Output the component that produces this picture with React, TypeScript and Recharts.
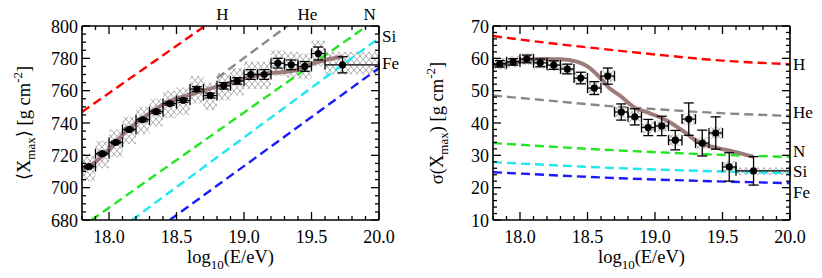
import React from 'react';
import {
  ComposedChart,
  Line,
  Scatter,
  XAxis,
  YAxis,
  ReferenceArea,
  ErrorBar,
} from 'recharts';

const FONT = "'Liberation Serif', 'DejaVu Serif', 'Noto Serif', 'Times New Roman', Times, serif";
const TXT: React.CSSProperties = { fontFamily: FONT };
const TICK_FS = 18;
const LABEL_FS = 18.5;
const NAME_FS = 17;

// ---------- shared energy bins (log10(E/eV)) ----------
const energy = [17.85, 17.95, 18.05, 18.15, 18.25, 18.35, 18.45, 18.55, 18.65, 18.75, 18.85, 18.95, 19.05, 19.15, 19.25, 19.35, 19.45, 19.55, 19.73];
const energyErrLow = [0.05, 0.05, 0.05, 0.05, 0.05, 0.05, 0.05, 0.05, 0.05, 0.05, 0.05, 0.05, 0.05, 0.05, 0.05, 0.05, 0.05, 0.05, 0.13];
const energyErrHigh = [0.05, 0.05, 0.05, 0.05, 0.05, 0.05, 0.05, 0.05, 0.05, 0.05, 0.05, 0.05, 0.05, 0.05, 0.05, 0.05, 0.05, 0.05, 0.27];

// ---------- <Xmax> ----------
const xmaxMean = [713, 721, 728, 736, 742, 747, 752, 754, 761, 757, 763, 766, 770, 770, 777, 776, 775, 783, 776];
const xmaxStat = [0.8, 0.8, 0.8, 0.8, 0.9, 1, 1, 1.2, 1.5, 1.5, 2, 2, 3, 3, 3, 3, 3, 4, 5];
const xmaxSysLow = [9, 9, 9, 9, 9, 9, 9, 9, 9, 9, 9, 9, 9, 9, 8, 8, 8, 8, 6];
const xmaxSysHigh = [8, 8, 8, 8, 8, 8, 8, 8, 8, 8, 8, 8, 8, 8, 8, 8, 8, 8, 8];

const xmaxFitE = [17.8, 17.9, 18.0, 18.1, 18.2, 18.3, 18.4, 18.5, 18.6, 18.7, 18.8, 18.9, 19.0, 19.1, 19.2, 19.3, 19.4, 19.5, 19.6, 19.73];
const xmaxFitV = [711, 716, 723.5, 732.5, 740, 746, 751.5, 755, 757.5, 760, 762.5, 765, 767.5, 769.5, 771, 771.5, 773, 776.5, 779, 781];

const xmaxH_E = [17.8, 18.71];
const xmaxH_V = [746.8, 800];
const xmaxHe_E = [18.8, 19.32];
const xmaxHe_V = [767.8, 800];
const xmaxN_E = [17.87, 19.91];
const xmaxN_V = [680, 800];
const xmaxSi_E = [18.17, 20.0];
const xmaxSi_V = [680, 792.6];
const xmaxFe_E = [18.45, 20.0];
const xmaxFe_V = [680, 774];

// ---------- sigma(Xmax) ----------
const sigmaMean = [58.3, 58.9, 59.8, 58.6, 57.9, 56.7, 53.9, 50.8, 54.5, 43.4, 41.9, 38.6, 39.1, 34.7, 41.2, 33.8, 36.9, 26.4, 25.2];
const sigmaStat = [1, 1, 1.2, 1.2, 1.3, 1.5, 1.8, 2, 2.5, 2.5, 2.5, 2.5, 3, 3, 5, 4, 5, 4.4, 4.4];
const sigmaSysLow = [1.8, 1.8, 1.8, 1.8, 1.8, 1.8, 1.8, 1.8, 1.8, 1.8, 1.8, 1.8, 1.8, 1.8, 1.8, 1.8, 1.8, 1.8, 1.3];
const sigmaSysHigh = [1.8, 1.8, 1.8, 1.8, 1.8, 1.8, 1.8, 1.8, 1.8, 1.8, 1.8, 1.8, 1.8, 1.8, 1.8, 1.8, 1.8, 1.8, 1.0];

const sigmaFitE = [17.8, 17.95, 18.15, 18.3, 18.42, 18.5, 18.57, 18.67, 18.74, 18.84, 18.95, 19.1, 19.21, 19.33, 19.46, 19.6, 19.73];
const sigmaFitV = [57.6, 58.6, 59.8, 59.7, 59.0, 57.5, 55, 50.5, 48.5, 45, 43.2, 40.5, 37.5, 33.8, 32.3, 31, 29.5];

const sigmaH_E = [17.8, 18.0, 18.2, 18.5, 19.0, 19.5, 20.0];
const sigmaH_V = [66.9, 65.8, 64.8, 63.4, 61.2, 59.3, 58.2];
const sigmaHe_E = [17.8, 18.3, 18.64, 19.0, 19.33, 20.0];
const sigmaHe_V = [48.5, 46.6, 45.3, 44.3, 43.4, 42.2];
const sigmaN_E = [17.8, 18.6, 19.33, 20.0];
const sigmaN_V = [33.8, 31.8, 30.4, 29.5];
const sigmaSi_E = [17.8, 18.69, 20.0];
const sigmaSi_V = [27.9, 26.1, 24.5];
const sigmaFe_E = [17.8, 18.69, 20.0];
const sigmaFe_V = [24.8, 23.0, 21.4];

// ---------- ticks & labels ----------
const xMinorTicks = [17.8, 17.9, 18.0, 18.1, 18.2, 18.3, 18.4, 18.5, 18.6, 18.7, 18.8, 18.9, 19.0, 19.1, 19.2, 19.3, 19.4, 19.5, 19.6, 19.7, 19.8, 19.9, 20.0];
const xMajorTicks = [18.0, 18.5, 19.0, 19.5, 20.0];
const xTickLabels = ['18.0', '18.5', '19.0', '19.5', '20.0'];

const xmaxMinorTicks = [680, 685, 690, 695, 700, 705, 710, 715, 720, 725, 730, 735, 740, 745, 750, 755, 760, 765, 770, 775, 780, 785, 790, 795, 800];
const xmaxMajorTicks = [680, 700, 720, 740, 760, 780, 800];
const xmaxTickLabels = ['680', '700', '720', '740', '760', '780', '800'];

const sigmaMinorTicks = [10, 12, 14, 16, 18, 20, 22, 24, 26, 28, 30, 32, 34, 36, 38, 40, 42, 44, 46, 48, 50, 52, 54, 56, 58, 60, 62, 64, 66, 68, 70];
const sigmaMajorTicks = [10, 20, 30, 40, 50, 60, 70];
const sigmaTickLabels = ['10', '20', '30', '40', '50', '60', '70'];

const primaryNames = ['H', 'He', 'N', 'Si', 'Fe'];
// left panel: H, He, N labelled above the frame; Si, Fe at the right edge
const xmaxTopLabelNames = ['H', 'He', 'N'];
const xmaxTopLabelE = [18.84, 19.47, 19.93];
const xmaxSideLabelNames = ['Si', 'Fe'];
const xmaxSideLabelV = [793.8, 777.1];
// right panel: all at the right edge
const sigmaSideLabelV = [58.2, 43.4, 31.2, 25.2, 18.7];

// ---------- styles ----------
const primaryColors: Record<string, string> = {
  H: '#ff0000',
  He: '#888888',
  N: '#22e622',
  Si: '#1ee8f0',
  Fe: '#1a1aff',
};
const FIT_COLOR = '#9c7b7b';

// ---------- helpers ----------
const zip = (xs: number[], ys: number[]) => xs.map((x, i) => ({ x, y: ys[i] }));
const idx = (v: number, arr: number[]) => arr.findIndex((a) => Math.abs(a - v) < 1e-6);

const makePoints = (means: number[], stat: number[]) =>
  energy.map((e, i) => ({ x: e, y: means[i], ey: stat[i], ex: [energyErrLow[i], energyErrHigh[i]] }));

const makeBoxes = (means: number[], lo: number[], hi: number[]) =>
  energy.map((e, i) => ({
    x1: e - energyErrLow[i],
    x2: e + energyErrHigh[i],
    y1: means[i] - lo[i],
    y2: means[i] + hi[i],
  }));

const TICK_MAJOR = 8;
const TICK_MINOR = 4;
const TICK_W = 1.3;

const bottomTick = (majors: number[], labels: string[]) => (p: any) => {
  const k = idx(p.payload.value, majors);
  return (
    <g>
      <line x1={p.x} x2={p.x} y1={p.y} y2={p.y - (k >= 0 ? TICK_MAJOR : TICK_MINOR)} stroke="#000" strokeWidth={TICK_W} />
      {k >= 0 && (
        <text x={p.x} y={p.y + 22.5} textAnchor="middle" style={TXT} fontSize={TICK_FS} fill="#000">
          {labels[k]}
        </text>
      )}
    </g>
  );
};

const leftTick = (majors: number[], labels: string[]) => (p: any) => {
  const k = idx(p.payload.value, majors);
  return (
    <g>
      <line x1={p.x} x2={p.x + (k >= 0 ? TICK_MAJOR : TICK_MINOR)} y1={p.y} y2={p.y} stroke="#000" strokeWidth={TICK_W} />
      {k >= 0 && (
        <text x={p.x - 4} y={p.y + 6.5} textAnchor="end" style={TXT} fontSize={TICK_FS} fill="#000">
          {labels[k]}
        </text>
      )}
    </g>
  );
};

// right axis: minor/major tick marks + primary names right of the frame
const rightTick = (minors: number[], majors: number[], nameVals: number[], names: string[]) => (p: any) => {
  const v = p.payload.value;
  const isTick = idx(v, minors) >= 0;
  const k = idx(v, majors);
  const n = idx(v, nameVals);
  return (
    <g>
      {isTick && (
        <line x1={p.x} x2={p.x - (k >= 0 ? TICK_MAJOR : TICK_MINOR)} y1={p.y} y2={p.y} stroke="#000" strokeWidth={TICK_W} />
      )}
      {n >= 0 && (
        <text x={p.x + 3} y={p.y + 6} textAnchor="start" style={TXT} fontSize={NAME_FS} fill="#000">
          {names[n]}
        </text>
      )}
    </g>
  );
};

// top frame decorations (mirrored x ticks and primary names), positioned through the top axis scale
const TopDecor = (p: any) => {
  const d = p.payload || {};
  if (d.kind === 'name') {
    return (
      <text x={p.cx} y={p.cy - 6} textAnchor="middle" style={TXT} fontSize={NAME_FS} fill="#000">
        {d.name}
      </text>
    );
  }
  return (
    <line
      x1={p.cx}
      x2={p.cx}
      y1={p.cy}
      y2={p.cy + (d.kind === 'major' ? TICK_MAJOR : TICK_MINOR)}
      stroke="#000"
      strokeWidth={TICK_W}
    />
  );
};

const Dot = (p: any) => <circle cx={p.cx} cy={p.cy} r={3.6} fill="#000" />;

type Comp = { name: string; e: number[]; v: number[]; curve: 'linear' | 'monotone' };

type PanelProps = {
  left: number;
  width: number;
  yAxisWidth: number;
  rightMargin: number;
  yDomain: [number, number];
  yMinor: number[];
  yMajor: number[];
  yLabels: string[];
  yLabel: React.ReactNode;
  yLabelX: number;
  points: any[];
  boxes: any[];
  comps: Comp[];
  fit: { x: number; y: number }[];
  hatchId: string;
  topNames: string[];
  topE: number[];
  sideNames: string[];
  sideV: number[];
};

const H = 278;
const TOP = 26;
const XAXIS_H = 58;
const MIRROR = 1; // thickness of the mirrored top / right axes boxes

function Panel(pp: PanelProps) {
  const plotW = pp.width - pp.yAxisWidth - pp.rightMargin;
  const plotH = H - TOP - XAXIS_H;
  const cx = pp.yAxisWidth + plotW / 2;
  const cy = TOP + plotH / 2;
  const rightTicks = [...pp.yMinor, ...pp.sideV].sort((a, b) => a - b);
  const topY = pp.yDomain[1];
  const topDecor = [
    ...xMinorTicks.map((t) => ({ x: t, y: topY, kind: idx(t, xMajorTicks) >= 0 ? 'major' : 'minor', name: '' })),
    ...pp.topE.map((e, i) => ({ x: e, y: topY, kind: 'name', name: pp.topNames[i] })),
  ];
  return (
    <div style={{ position: 'absolute', left: pp.left, top: 0, width: pp.width, height: H, fontFamily: FONT }}>
      <ComposedChart
        width={pp.width}
        height={H}
        margin={{ top: TOP - MIRROR, right: pp.rightMargin - MIRROR, bottom: 0, left: 0 }}
      >
        <defs>
          <pattern id={pp.hatchId} patternUnits="userSpaceOnUse" width={6} height={7}>
            <path d="M0,0 L6,7 M6,0 L0,7" stroke="#a0a0a0" strokeWidth={0.9} fill="none" />
          </pattern>
        </defs>
        <XAxis
          dataKey="x"
          type="number"
          domain={[17.8, 20]}
          allowDataOverflow
          ticks={xMinorTicks}
          interval={0}
          tickSize={0}
          tickMargin={0}
          tickLine={false}
          tick={bottomTick(xMajorTicks, xTickLabels)}
          axisLine={{ stroke: '#000', strokeWidth: 1.6 }}
          height={XAXIS_H}
          label={{
            content: () => (
              <text x={cx} y={TOP + plotH + 43} textAnchor="middle" style={TXT} fontSize={LABEL_FS} fill="#000">
                <tspan>log</tspan>
                <tspan fontSize={13} dy={6}>10</tspan>
                <tspan dy={-6}>(E/eV)</tspan>
              </text>
            ),
          }}
        />
        <XAxis
          xAxisId="top"
          dataKey="x"
          orientation="top"
          type="number"
          domain={[17.8, 20]}
          ticks={xMinorTicks}
          interval={0}
          tickSize={0}
          tickMargin={0}
          tickLine={false}
          tick={false}
          axisLine={{ stroke: '#000', strokeWidth: 1.6 }}
          height={MIRROR}
        />
        <YAxis
          dataKey="y"
          type="number"
          domain={pp.yDomain}
          allowDataOverflow
          ticks={pp.yMinor}
          interval={0}
          tickSize={0}
          tickMargin={0}
          tickLine={false}
          tick={leftTick(pp.yMajor, pp.yLabels)}
          axisLine={{ stroke: '#000', strokeWidth: 1.6 }}
          width={pp.yAxisWidth}
          label={{
            content: () => (
              <text
                transform={`translate(${pp.yLabelX},${cy}) rotate(-90)`}
                textAnchor="middle"
                style={TXT}
                fontSize={LABEL_FS}
                fill="#000"
                dy={6.5}
              >
                {pp.yLabel}
              </text>
            ),
          }}
        />
        <YAxis
          yAxisId="r"
          dataKey="y"
          orientation="right"
          type="number"
          domain={pp.yDomain}
          ticks={rightTicks}
          interval={0}
          tickSize={0}
          tickMargin={0}
          tickLine={false}
          tick={rightTick(pp.yMinor, pp.yMajor, pp.sideV, pp.sideNames)}
          axisLine={{ stroke: '#000', strokeWidth: 1.6 }}
          width={MIRROR}
        />
        {pp.boxes.map((b, i) => (
          <ReferenceArea
            key={'box' + i}
            x1={b.x1}
            x2={b.x2}
            y1={b.y1}
            y2={b.y2}
            fill={`url(#${pp.hatchId})`}
            fillOpacity={1}
            stroke="none"
            ifOverflow="visible"
          />
        ))}
        {pp.comps.map((c) => (
          <Line
            key={c.name}
            data={zip(c.e, c.v)}
            dataKey="y"
            type={c.curve}
            stroke={primaryColors[c.name]}
            strokeWidth={2.4}
            strokeDasharray="9 5"
            dot={false}
            activeDot={false}
            isAnimationActive={false}
          />
        ))}
        <Line
          data={pp.fit}
          dataKey="y"
          type="monotone"
          stroke={FIT_COLOR}
          strokeWidth={4}
          dot={false}
          activeDot={false}
          isAnimationActive={false}
        />
        <Scatter data={pp.points} dataKey="y" shape={Dot} isAnimationActive={false}>
          <ErrorBar dataKey="ey" direction="y" width={5} stroke="#000" strokeWidth={1.3} isAnimationActive={false} />
          <ErrorBar dataKey="ex" direction="x" width={5} stroke="#000" strokeWidth={1.3} isAnimationActive={false} />
        </Scatter>
        <Scatter
          data={topDecor}
          dataKey="y"
          xAxisId="top"
          yAxisId="r"
          shape={TopDecor}
          isAnimationActive={false}
        />
      </ComposedChart>
    </div>
  );
}

const xmaxComps: Comp[] = [
  { name: 'H', e: xmaxH_E, v: xmaxH_V, curve: 'linear' },
  { name: 'He', e: xmaxHe_E, v: xmaxHe_V, curve: 'linear' },
  { name: 'N', e: xmaxN_E, v: xmaxN_V, curve: 'linear' },
  { name: 'Si', e: xmaxSi_E, v: xmaxSi_V, curve: 'linear' },
  { name: 'Fe', e: xmaxFe_E, v: xmaxFe_V, curve: 'linear' },
];

const sigmaComps: Comp[] = [
  { name: 'H', e: sigmaH_E, v: sigmaH_V, curve: 'monotone' },
  { name: 'He', e: sigmaHe_E, v: sigmaHe_V, curve: 'monotone' },
  { name: 'N', e: sigmaN_E, v: sigmaN_V, curve: 'monotone' },
  { name: 'Si', e: sigmaSi_E, v: sigmaSi_V, curve: 'monotone' },
  { name: 'Fe', e: sigmaFe_E, v: sigmaFe_V, curve: 'monotone' },
];

const xmaxYLabel = (
  <>
    <tspan>⟨X</tspan>
    <tspan fontSize={13} dy={5}>max</tspan>
    <tspan dy={-5}>⟩ [g cm</tspan>
    <tspan fontSize={13} dy={-8}>-2</tspan>
    <tspan dy={8}>]</tspan>
  </>
);

const sigmaYLabel = (
  <>
    <tspan>σ(X</tspan>
    <tspan fontSize={13} dy={5}>max</tspan>
    <tspan dy={-5}>) [g cm</tspan>
    <tspan fontSize={13} dy={-8}>-2</tspan>
    <tspan dy={8}>]</tspan>
  </>
);

export default function App() {
  return (
    <div style={{ position: 'absolute', left: 0, top: 0, width: 822, height: 278, background: '#fff', fontFamily: FONT }}>
      <Panel
        left={0}
        width={410}
        yAxisWidth={82}
        rightMargin={31}
        yDomain={[680, 800]}
        yMinor={xmaxMinorTicks}
        yMajor={xmaxMajorTicks}
        yLabels={xmaxTickLabels}
        yLabel={xmaxYLabel}
        yLabelX={23}
        points={makePoints(xmaxMean, xmaxStat)}
        boxes={makeBoxes(xmaxMean, xmaxSysLow, xmaxSysHigh)}
        comps={xmaxComps}
        fit={zip(xmaxFitE, xmaxFitV)}
        hatchId="hatchL"
        topNames={xmaxTopLabelNames}
        topE={xmaxTopLabelE}
        sideNames={xmaxSideLabelNames}
        sideV={xmaxSideLabelV}
      />
      <Panel
        left={410}
        width={412}
        yAxisWidth={83}
        rightMargin={32}
        yDomain={[10, 70]}
        yMinor={sigmaMinorTicks}
        yMajor={sigmaMajorTicks}
        yLabels={sigmaTickLabels}
        yLabel={sigmaYLabel}
        yLabelX={26}
        points={makePoints(sigmaMean, sigmaStat)}
        boxes={makeBoxes(sigmaMean, sigmaSysLow, sigmaSysHigh)}
        comps={sigmaComps}
        fit={zip(sigmaFitE, sigmaFitV)}
        hatchId="hatchR"
        topNames={[]}
        topE={[]}
        sideNames={primaryNames}
        sideV={sigmaSideLabelV}
      />
    </div>
  );
}
